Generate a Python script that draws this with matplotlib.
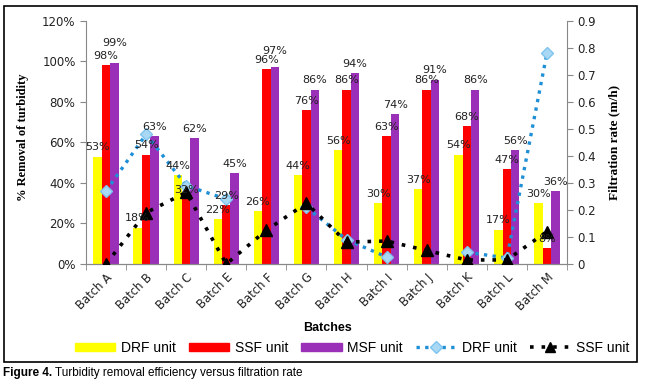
import matplotlib.pyplot as plt
import matplotlib.patches as mpatches
import matplotlib.lines as mlines
import numpy as np

batches = ["Batch A", "Batch B", "Batch C", "Batch E", "Batch F", "Batch G",
           "Batch H", "Batch I", "Batch J", "Batch K", "Batch L", "Batch M"]

# % removal of turbidity (bars)
drf_removal = [53, 18, 44, 22, 26, 44, 56, 30, 37, 54, 17, 30]
ssf_removal = [98, 54, 32, 29, 96, 76, 86, 63, 86, 68, 47, 8]
msf_removal = [99, 63, 62, 45, 97, 86, 94, 74, 91, 86, 56, 36]

# filtration rate (m/h), lines on right axis (nan = no point)
drf_rate = [0.27, 0.48, 0.29, 0.24, np.nan, 0.21, 0.09, 0.026, np.nan, 0.044, 0.022, 0.78]
ssf_rate = [0.0, 0.19, 0.265, 0.0, 0.125, 0.225, 0.081, 0.085, 0.05, 0.015, 0.015, 0.12]

yellow = "#FFFF00"
red = "#FF0000"
purple = "#9B30B8"
blue = "#1F8FD6"
lightblue = "#A9D8F5"

fig = plt.figure(figsize=(6.46, 3.84), dpi=100)
ax = fig.add_axes([0.1331, 0.3125, 0.7446, 0.6335])
ax2 = ax.twinx()

x = np.arange(len(batches))
w = 0.21
ax.bar(x - w, np.array(drf_removal) / 100, w, color=yellow, zorder=2)
ax.bar(x, np.array(ssf_removal) / 100, w, color=red, zorder=2)
ax.bar(x + w, np.array(msf_removal) / 100, w, color=purple, zorder=2)

ax.set_xlim(-0.5, len(batches) - 0.5)
ax.set_ylim(0, 1.2)
ax.set_yticks(np.arange(0, 1.21, 0.2))
ax.set_yticklabels([f"{int(round(v * 100))}%" for v in np.arange(0, 1.21, 0.2)],
                   fontsize=8.5, color="#222222")
ax.set_xticks(x)
ax.set_xticklabels(batches, rotation=45, ha="right", rotation_mode="anchor",
                   fontsize=8.3, color="#222222")
ax.set_xticks(np.arange(-0.5, len(batches), 1), minor=True)
ax.tick_params(axis="x", which="major", length=0, pad=5)
ax.tick_params(axis="x", which="minor", length=4, color="#888888")
ax.tick_params(axis="y", length=4, color="#888888")

ax2.plot(x, drf_rate, linestyle=(0, (1, 1.6)), linewidth=2.4, color=blue,
         marker="D", markersize=6.5, markerfacecolor=lightblue,
         markeredgecolor="#7FC4EE", zorder=3)
ax2.plot(x, ssf_rate, linestyle=(0, (1, 2.2)), linewidth=2.6, color="black",
         marker="^", markersize=8, markerfacecolor="black", zorder=4)
ax2.set_ylim(0, 0.9)
ax2.set_yticks(np.arange(0, 0.91, 0.1))
ax2.set_yticklabels(["0"] + [f"{v:.1f}" for v in np.arange(0.1, 0.91, 0.1)],
                    fontsize=8.5, color="#222222")
ax2.tick_params(axis="y", length=4, color="#888888")

for a in (ax, ax2):
    a.spines["top"].set_visible(False)
    for s in ("left", "right", "bottom"):
        a.spines[s].set_color("#888888")
ax.spines["right"].set_visible(False)
ax2.spines["left"].set_visible(False)

# data labels drawn above the lines; a few MSF labels lifted as in the source
msf_extra = [8, 0, 0, 0, 5, 0, 0, 0, 0, 0, 0, 0]
for vals, off, extra in ((drf_removal, -w, None), (ssf_removal, 0, None),
                         (msf_removal, w, msf_extra)):
    for i, (xi, v) in enumerate(zip(x, vals)):
        dy = 3 + (extra[i] if extra else 0)
        ax2.annotate(f"{v}%", xy=(xi + off, v / 100), xycoords=ax.transData,
                     xytext=(0, dy), textcoords="offset points",
                     ha="center", va="bottom", fontsize=8, color="#222222",
                     zorder=6)

ax.set_ylabel("% Removal of turbidity", family="Liberation Serif",
              fontweight="bold", fontsize=9)
ax.yaxis.set_label_coords(-0.118, 0.522)
ax2.set_ylabel("Filtration rate (m/h)", family="Liberation Serif",
               fontweight="bold", fontsize=9.5)
ax2.yaxis.set_label_coords(1.085, 0.5)

fig.text(328 / 646, 1 - 328 / 384, "Batches", ha="center", va="center",
         fontsize=9, fontweight="bold", family="Liberation Sans")

handles = [
    mpatches.Patch(color=yellow, label="DRF unit"),
    mpatches.Patch(color=red, label="SSF unit"),
    mpatches.Patch(color=purple, label="MSF unit"),
    mlines.Line2D([], [], linestyle=(0, (1, 1.6)), linewidth=2.4, color=blue,
                  marker="D", markersize=6, markerfacecolor=lightblue,
                  markeredgecolor="#7FC4EE", label="DRF unit"),
    mlines.Line2D([], [], linestyle=(0, (1, 2.2)), linewidth=2.6, color="black",
                  marker="^", markersize=7, label="SSF unit"),
]
fig.legend(handles=handles, loc="center", bbox_to_anchor=(352 / 646, 1 - 348 / 384),
           ncol=5, frameon=False, prop={"family": "Liberation Sans", "size": 10},
           handlelength=2.9, handleheight=0.55, columnspacing=0.95, handletextpad=0.4)

# outer frame
fig.patches.append(mpatches.Rectangle((4 / 646, 1 - 362 / 384), 633 / 646, 356 / 384,
                                      transform=fig.transFigure, fill=False,
                                      edgecolor="black", linewidth=1.2))

# caption
t1 = fig.text(3 / 646, 1 - 373 / 384, "Figure 4.", fontsize=8.5, fontweight="bold",
              family="Liberation Sans", va="center", ha="left")
fig.canvas.draw()
bb = t1.get_window_extent()
fig.text(bb.x1 / 646 + 3 / 646, 1 - 373 / 384,
         "Turbidity removal efficiency versus filtration rate",
         fontsize=8.5, family="Liberation Sans", va="center", ha="left")

fig.savefig("out.png", dpi=100)
